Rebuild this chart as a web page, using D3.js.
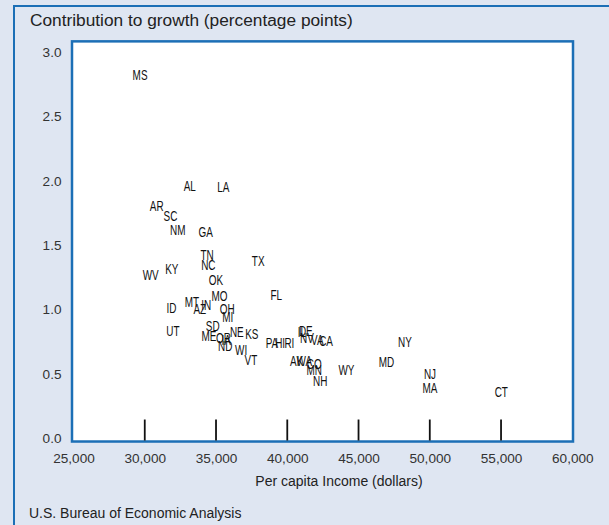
<!DOCTYPE html>
<html>
<head>
<meta charset="utf-8">
<script src="https://cdn.jsdelivr.net/npm/d3@7"></script>
<style>
  html, body { margin: 0; padding: 0; background: #dfe6f2; }
  svg { display: block; }
  text { font-family: "Liberation Sans", Arial, Helvetica, sans-serif; }
</style>
</head>
<body>
<svg id="chart" width="609" height="525"></svg>
<script>
// ---- data ----
const states = ["MS","AL","LA","AR","SC","NM","GA","TN","NC","TX","WV","KY","OK","MO","FL",
  "ID","MT","AZ","IN","OH","MI","UT","SD","ME","OR","IA","ND","NE","KS","WI","VT",
  "PA","HI","RI","IL","DE","NV","VA","CA","AK","WA","CO","MN","NH","WY","MD","NY","NJ","MA","CT"];
const income = [29670,33160,35510,30840,31800,32320,34280,34370,34460,37960,30420,31900,34990,35240,39220,
  31870,33300,33860,34320,35780,35830,31970,34770,34510,35520,35710,35640,36460,37510,36760,37450,
  38920,39500,40150,41020,41300,41380,42110,42720,40660,41190,41890,41890,42310,44150,46960,48260,50010,50010,55020];
const contribution = [2.83,1.966,1.955,1.807,1.729,1.625,1.606,1.432,1.353,1.386,1.273,1.317,1.233,1.112,1.12,
  1.017,1.066,1.01,1.038,1.006,0.951,0.835,0.881,0.803,0.787,0.772,0.725,0.834,0.816,0.694,0.616,
  0.747,0.747,0.747,0.834,0.842,0.783,0.768,0.762,0.609,0.605,0.585,0.539,0.449,0.533,0.595,0.751,0.507,0.399,0.362];
const xTickValues = [25000,30000,35000,40000,45000,50000,55000,60000];
const xTickMarks = [30000,35000,40000,45000,50000,55000];
const yTickValues = [0,0.5,1.0,1.5,2.0,2.5,3.0];
const yTitle = "Contribution to growth (percentage points)";
const xTitle = "Per capita Income (dollars)";
const source = "U.S. Bureau of Economic Analysis";

// ---- drawing ----
const svg = d3.select("#chart");
const blue = "#1c6fb6";
const x = d3.scaleLinear().domain([25000, 60000]).range([73.5, 572.3]);
const y = d3.scaleLinear().domain([0, 3]).range([438.3, 52.3]);

// outer panel lines
svg.append("line").attr("x1", 14).attr("x2", 609).attr("y1", 6).attr("y2", 6)
  .attr("stroke", blue).attr("stroke-width", 2);
svg.append("line").attr("x1", 14).attr("x2", 14).attr("y1", 5).attr("y2", 525)
  .attr("stroke", blue).attr("stroke-width", 2);

// plot frame
const fx0 = x(25000) - 1.5, fx1 = x(60000) + 0.7;
const fy0 = y(3.085), fy1 = y(-0.025);
svg.append("rect").attr("x", fx0).attr("y", fy0)
  .attr("width", fx1 - fx0).attr("height", fy1 - fy0)
  .attr("fill", "#ffffff").attr("stroke", blue).attr("stroke-width", 2.5);

// tick marks (inside frame, pointing up)
svg.append("g").selectAll("line").data(xTickMarks).join("line")
  .attr("x1", d => x(d)).attr("x2", d => x(d))
  .attr("y1", fy1 - 22).attr("y2", fy1 - 1)
  .attr("stroke", "#111").attr("stroke-width", 1.8);

// x axis labels
const xAxis = d3.axisBottom(x).tickValues(xTickValues).tickSize(0).tickPadding(0)
  .tickFormat(d3.format(","));
const gx = svg.append("g").attr("transform", `translate(0,${458})`).call(xAxis);
gx.select(".domain").remove();
gx.selectAll("text").attr("dy", "0.35em").attr("font-size", 13.6)
  .attr("fill", "#333").attr("font-family", "Liberation Sans, Arial, sans-serif");

// y axis labels
const yAxis = d3.axisLeft(y).tickValues(yTickValues).tickSize(0).tickPadding(0)
  .tickFormat(d3.format(".1f"));
const gy = svg.append("g").attr("transform", `translate(${61.5},0)`).call(yAxis);
gy.select(".domain").remove();
gy.selectAll("text").attr("font-size", 13.6)
  .attr("fill", "#333").attr("font-family", "Liberation Sans, Arial, sans-serif");

// titles
svg.append("text").attr("x", 30).attr("y", 26).attr("font-size", 17.3)
  .attr("fill", "#222").text(yTitle);
svg.append("text").attr("x", 339).attr("y", 485.5).attr("text-anchor", "middle")
  .attr("font-size", 14).attr("fill", "#222").text(xTitle);
svg.append("text").attr("x", 29).attr("y", 518).attr("font-size", 14)
  .attr("fill", "#222").text(source);

// point labels
const pts = states.map((s, i) => ({ s, v: income[i], c: contribution[i] }));
svg.append("g").selectAll("text").data(pts).join("text")
  .attr("transform", d => `translate(${x(d.v)},${y(d.c)}) scale(0.64,1)`)
  .attr("text-anchor", "middle").attr("dy", "0.36em")
  .attr("font-size", 15.5).attr("fill", "#111")
  .text(d => d.s);
</script>
</body>
</html>
